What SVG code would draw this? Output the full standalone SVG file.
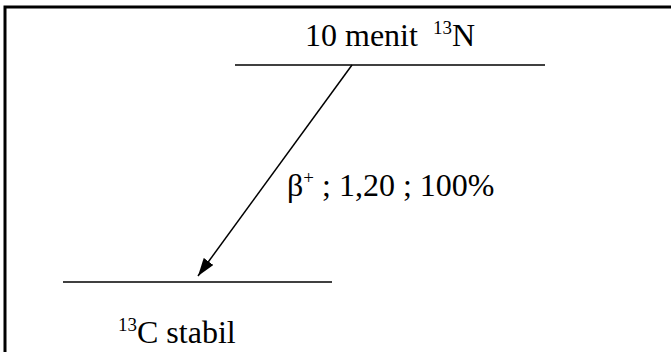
<svg xmlns="http://www.w3.org/2000/svg" width="671" height="352" viewBox="0 0 671 352">
<style>
.t{font-family:"Liberation Serif","Times New Roman","DejaVu Serif",serif;font-size:32px;fill:#000}
.s{font-size:19px}
.lv{stroke:#000;stroke-width:1.3;fill:none}
</style>
<defs>
<marker id="ah" viewBox="0 0 18 12" refX="18" refY="6" markerWidth="18" markerHeight="12" markerUnits="userSpaceOnUse" orient="auto">
<path d="M0,0 L18,6 L0,12 z" fill="#000"/>
</marker>
</defs>
<rect width="671" height="352" fill="#fff"/>
<g id="frame"><path d="M5,352 V7 H671" stroke="#000" stroke-width="3" fill="none"/></g>
<g id="n13">
<line class="lv" x1="235" y1="65" x2="545" y2="65"/>
<text class="t" x="305" y="46">10 menit <tspan class="s" dx="7" dy="-12">13</tspan><tspan dy="12">N</tspan></text>
</g>
<g id="c13">
<line class="lv" x1="63" y1="282" x2="332" y2="282" stroke-width="2.5"/>
<text class="t" x="118" y="343"><tspan class="s" dy="-12">13</tspan><tspan dy="12">C stabil</tspan></text>
</g>
<g id="connectors">
<line x1="352" y1="65" x2="198" y2="276" stroke="#000" stroke-width="1.5" marker-end="url(#ah)"/>
<text class="t" x="287" y="196">β<tspan class="s" dy="-12">+</tspan><tspan dy="12"> ; 1,20 ; 100%</tspan></text>
</g>
</svg>
